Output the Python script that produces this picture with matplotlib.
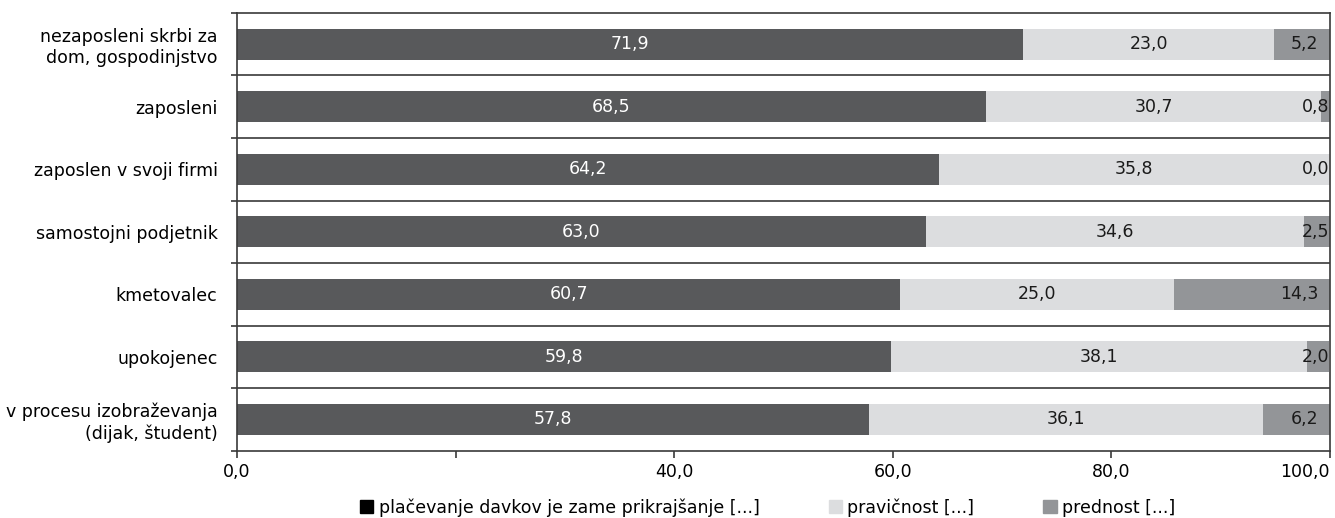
import numpy as np
import matplotlib
matplotlib.use("Agg")
import matplotlib.pyplot as plt
from matplotlib.patches import Patch
from matplotlib import font_manager

# poskusimo ozko pisavo, sicer DejaVu Sans Condensed
names = {f.name for f in font_manager.fontManager.ttflist}
fam = [n for n in ['Liberation Sans Narrow', 'DejaVu Sans Condensed'] if n in names]
plt.rcParams['font.family'] = fam + ['DejaVu Sans']

# data
kategorije = ['nezaposleni skrbi za\ndom, gospodinjstvo', 'zaposleni', 'zaposlen v svoji firmi',
              'samostojni podjetnik', 'kmetovalec', 'upokojenec',
              'v procesu izobraževanja\n(dijak, študent)']
prikrajsanje = [71.9, 68.5, 64.2, 63.0, 60.7, 59.8, 57.8]
pravicnost = [23.0, 30.7, 35.8, 34.6, 25.0, 38.1, 36.1]
prednost = [5.2, 0.8, 0.0, 2.5, 14.3, 2.0, 6.2]
serije = ['plačevanje davkov je zame prikrajšanje [...]', 'pravičnost [...]', 'prednost [...]']
xticks = [0, 20, 40, 60, 80, 100]
xtick_labels = ['0,0', '', '40,0', '60,0', '80,0', '100,0']

barve = ['#58595b', '#dcdddf', '#939598']

fig = plt.figure(figsize=(13.35, 5.18), dpi=100)
ax = fig.add_axes([0.1775, 0.13, 0.8188, 0.845])

y = np.arange(len(kategorije))
a = np.array(prikrajsanje)
b = np.array(pravicnost)
c = np.array(prednost)

ax.barh(y, a, height=0.5, color=barve[0])
ax.barh(y, b, left=a, height=0.5, color=barve[1])
ax.barh(y, c, left=a + b, height=0.5, color=barve[2])

fs = 13 if 'Liberation Sans Narrow' in fam else 12.5
for i in range(len(y)):
    ax.text(a[i] / 2, y[i], f'{a[i]:.1f}'.replace('.', ','), ha='center', va='center',
            color='white', fontsize=fs)
    ax.text(a[i] + b[i] / 2, y[i], f'{b[i]:.1f}'.replace('.', ','), ha='center', va='center',
            color='#1a1a1a', fontsize=fs)
    off = -12 if c[i] > 4 else -1
    ax.annotate(f'{c[i]:.1f}'.replace('.', ','), (100, y[i]), xytext=(off, 0),
                textcoords='offset pixels', ha='right', va='center',
                color='#1a1a1a', fontsize=fs, annotation_clip=False)

# separatorji
for k in range(1, len(y)):
    ax.axhline(k - 0.5, color='#3a3a3a', lw=1.2)

ax.set_xlim(0, 100)
ax.set_ylim(len(y) - 0.5, -0.5)
ax.set_xticks(xticks)
ax.set_xticklabels(xtick_labels, fontsize=fs)
ax.get_xticklabels()[-1].set_horizontalalignment('right')
ax.get_xticklabels()[-1].set_x(100.2)
ax.set_yticks(y)
ax.set_yticklabels(kategorije, fontsize=fs)
ax.set_yticks(np.arange(-0.5, len(y)), minor=True)
ax.tick_params(axis='y', which='major', length=0, pad=14)
ax.tick_params(axis='y', which='minor', length=4, width=1.2, color='#3a3a3a')
ax.tick_params(axis='x', length=5, width=1.2, color='#3a3a3a', pad=4)
for s in ax.spines.values():
    s.set_color('#3a3a3a')
    s.set_linewidth(1.2)

handles = [Patch(color='black'), Patch(color=barve[1]), Patch(color=barve[2])]
fig.legend(handles, serije, loc='lower center', bbox_to_anchor=(0.575, -0.028), ncol=3,
           frameon=False, fontsize=fs, handlelength=0.75, handleheight=0.75,
           handletextpad=0.3, columnspacing=4.0)

fig.savefig('out.png', dpi=100)
